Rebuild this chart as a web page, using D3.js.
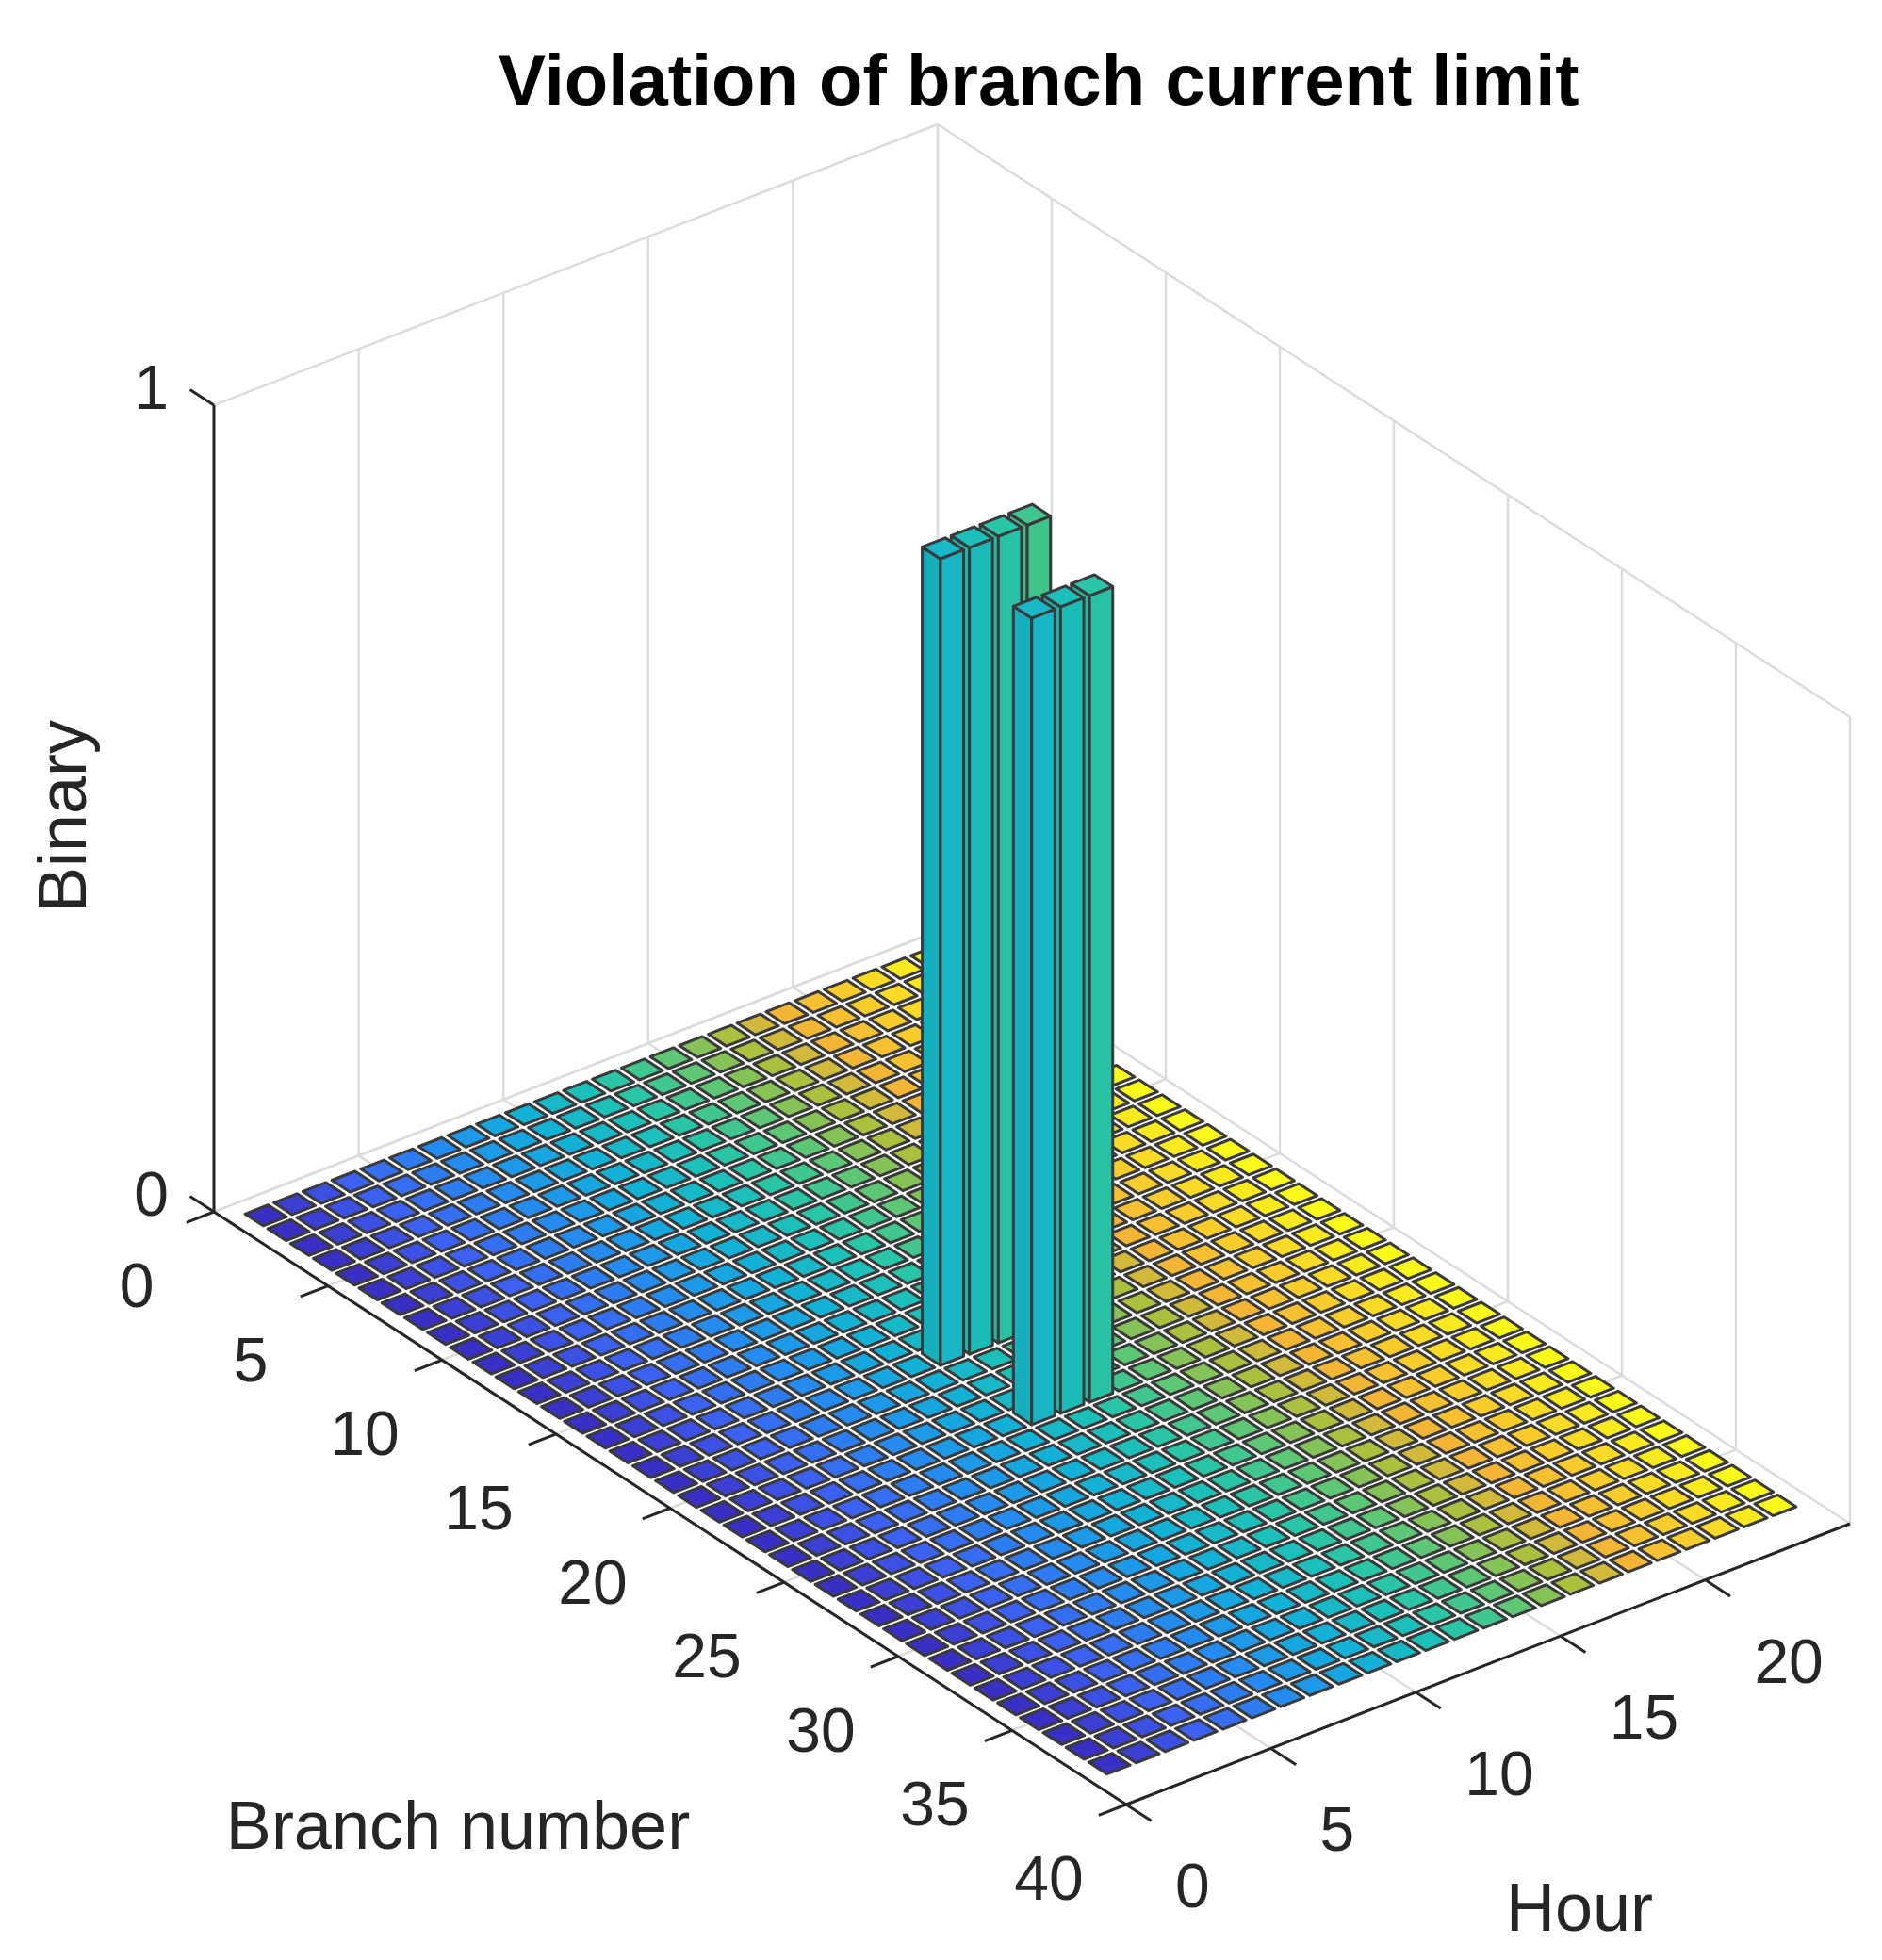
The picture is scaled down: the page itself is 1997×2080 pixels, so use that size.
<!DOCTYPE html>
<html><head><meta charset="utf-8">
<script src="https://cdn.jsdelivr.net/npm/d3@7"></script>
<style>body{margin:0;background:#fff}</style>
</head><body>
<svg id="c" width="1997" height="2080"></svg>
<script>
// ---- data ----
const branches = d3.range(1, 39);          // 38 branches
const hours = d3.range(1, 25);             // 24 hours
const violationBranch = [18, 18, 18, 18, 22, 22, 22];
const violationHour   = [11, 12, 13, 14, 11, 12, 13];
const violationValue  = [1, 1, 1, 1, 1, 1, 1];
const branchTicks = [0, 5, 10, 15, 20, 25, 30, 35, 40];
const hourTicks = [0, 5, 10, 15, 20];
const zTicks = [0, 1];
const title = "Violation of branch current limit";

// ---- projection via scales ----
const O = [227, 1286];
const bX = d3.scaleLinear().domain([0, 40]).range([0, 968]);
const bY = d3.scaleLinear().domain([0, 40]).range([0, 629]);
const hX = d3.scaleLinear().domain([0, 25]).range([0, 768]);
const hY = d3.scaleLinear().domain([0, 25]).range([0, -298]);
const zY = d3.scaleLinear().domain([0, 1]).range([0, -856]);
const P = (b, h, z) => [O[0] + bX(b) + hX(h), O[1] + bY(b) + hY(h) + zY(z)];

const parula = d3.scaleLinear()
  .domain([0, 0.125, 0.25, 0.375, 0.5, 0.6, 0.69, 0.78, 0.88, 1])
  .range(["#3a2fc4","#3d5ef0","#2888f0","#12aedc","#1ec3b2","#55c87c","#a8c040","#f2b436","#f9cf2c","#f8f81a"])
  .interpolate(d3.interpolateRgb);
const colorOf = h => parula((h - 1) / 23);

const svg = d3.select("#c");
const line = d3.line();
const gGrid = svg.append("g").attr("stroke", "#dcdcdc").attr("stroke-width", 2.5).attr("fill", "none");
hourTicks.concat([25]).forEach(h => gGrid.append("path").attr("d", line([P(0, h, 0), P(0, h, 1)])));
zTicks.forEach(z => gGrid.append("path").attr("d", line([P(0, 0, z), P(0, 25, z)])));
branchTicks.forEach(b => gGrid.append("path").attr("d", line([P(b, 25, 0), P(b, 25, 1)])));
zTicks.forEach(z => gGrid.append("path").attr("d", line([P(0, 25, z), P(40, 25, z)])));
hourTicks.forEach(h => gGrid.append("path").attr("d", line([P(0, h, 0), P(40, h, 0)])));
branchTicks.forEach(b => gGrid.append("path").attr("d", line([P(b, 0, 0), P(b, 25, 0)])));

// ---- bars ----
const val = new Map();
violationBranch.forEach((b, i) => val.set(b + "_" + violationHour[i], violationValue[i]));
const cells = [];
branches.forEach(b => hours.forEach(h => cells.push({ b, h, v: val.get(b + "_" + h) || 0 })));
cells.sort((p, q) => (p.b - p.h) - (q.b - q.h) || p.b - q.b);
const w = 0.4;
const gBars = svg.append("g").attr("stroke", "#3a3a3a").attr("stroke-width", 3).attr("stroke-linejoin", "round");
cells.forEach(c => {
  const col = d3.color(colorOf(c.h));
  const b0 = c.b - w, b1 = c.b + w, h0 = c.h - w, h1 = c.h + w, z = c.v;
  if (z > 0) {
    gBars.append("path").attr("fill", col.darker(0.15))
      .attr("d", line([P(b0, h0, 0), P(b1, h0, 0), P(b1, h0, z), P(b0, h0, z)]) + "Z");
    gBars.append("path").attr("fill", col.darker(0.05))
      .attr("d", line([P(b1, h0, 0), P(b1, h1, 0), P(b1, h1, z), P(b1, h0, z)]) + "Z");
  }
  gBars.append("path").attr("fill", col)
    .attr("d", line([P(b0, h0, z), P(b1, h0, z), P(b1, h1, z), P(b0, h1, z)]) + "Z");
});

// ---- axes ----
const gAx = svg.append("g").attr("stroke", "#262626").attr("stroke-width", 3).attr("fill", "none");
gAx.append("path").attr("d", line([P(0, 0, 0), P(0, 0, 1)]));
gAx.append("path").attr("d", line([P(0, 0, 0), P(40, 0, 0)]));
gAx.append("path").attr("d", line([P(40, 0, 0), P(40, 25, 0)]));
zTicks.forEach(z => gAx.append("path").attr("d", line([P(0, 0, z), P(-1.05, 0, z)])));
branchTicks.forEach(b => gAx.append("path").attr("d", line([P(b, 0, 0), P(b, -0.95, 0)])));
hourTicks.forEach(h => gAx.append("path").attr("d", line([P(40, h, 0), P(41.1, h, 0)])));

const font = "'Liberation Sans', Arial, Helvetica, sans-serif";
const txt = (x, y, s, size, anchor, weight) => svg.append("text").attr("x", x).attr("y", y)
  .attr("font-family", font).attr("font-size", size).attr("text-anchor", anchor || "middle")
  .attr("dominant-baseline", "central").attr("fill", "#262626").attr("font-weight", weight || "normal").text(s);
zTicks.forEach(z => { const p = P(0, 0, z); txt(p[0] - 48, p[1] - 19, z, 66, "end"); });
branchTicks.forEach(b => { const p = P(b, 0, 0); txt(p[0] - 82, p[1] + 78, b, 66); });
hourTicks.forEach(h => { const p = P(40, h, 0); txt(p[0] + 52, p[1] + 86, h, 66, "start"); });

txt(486, 1937, "Branch number", 72);
txt(1676, 2024, "Hour", 72);
svg.append("text").attr("transform", "translate(66,866) rotate(-90)").attr("text-anchor", "middle")
  .attr("dominant-baseline", "central").attr("font-family", font).attr("font-size", 72).attr("fill", "#262626").text("Binary");
txt(1102, 84, title, 76, "middle", "bold").attr("fill", "#000");
</script>
</body></html>
